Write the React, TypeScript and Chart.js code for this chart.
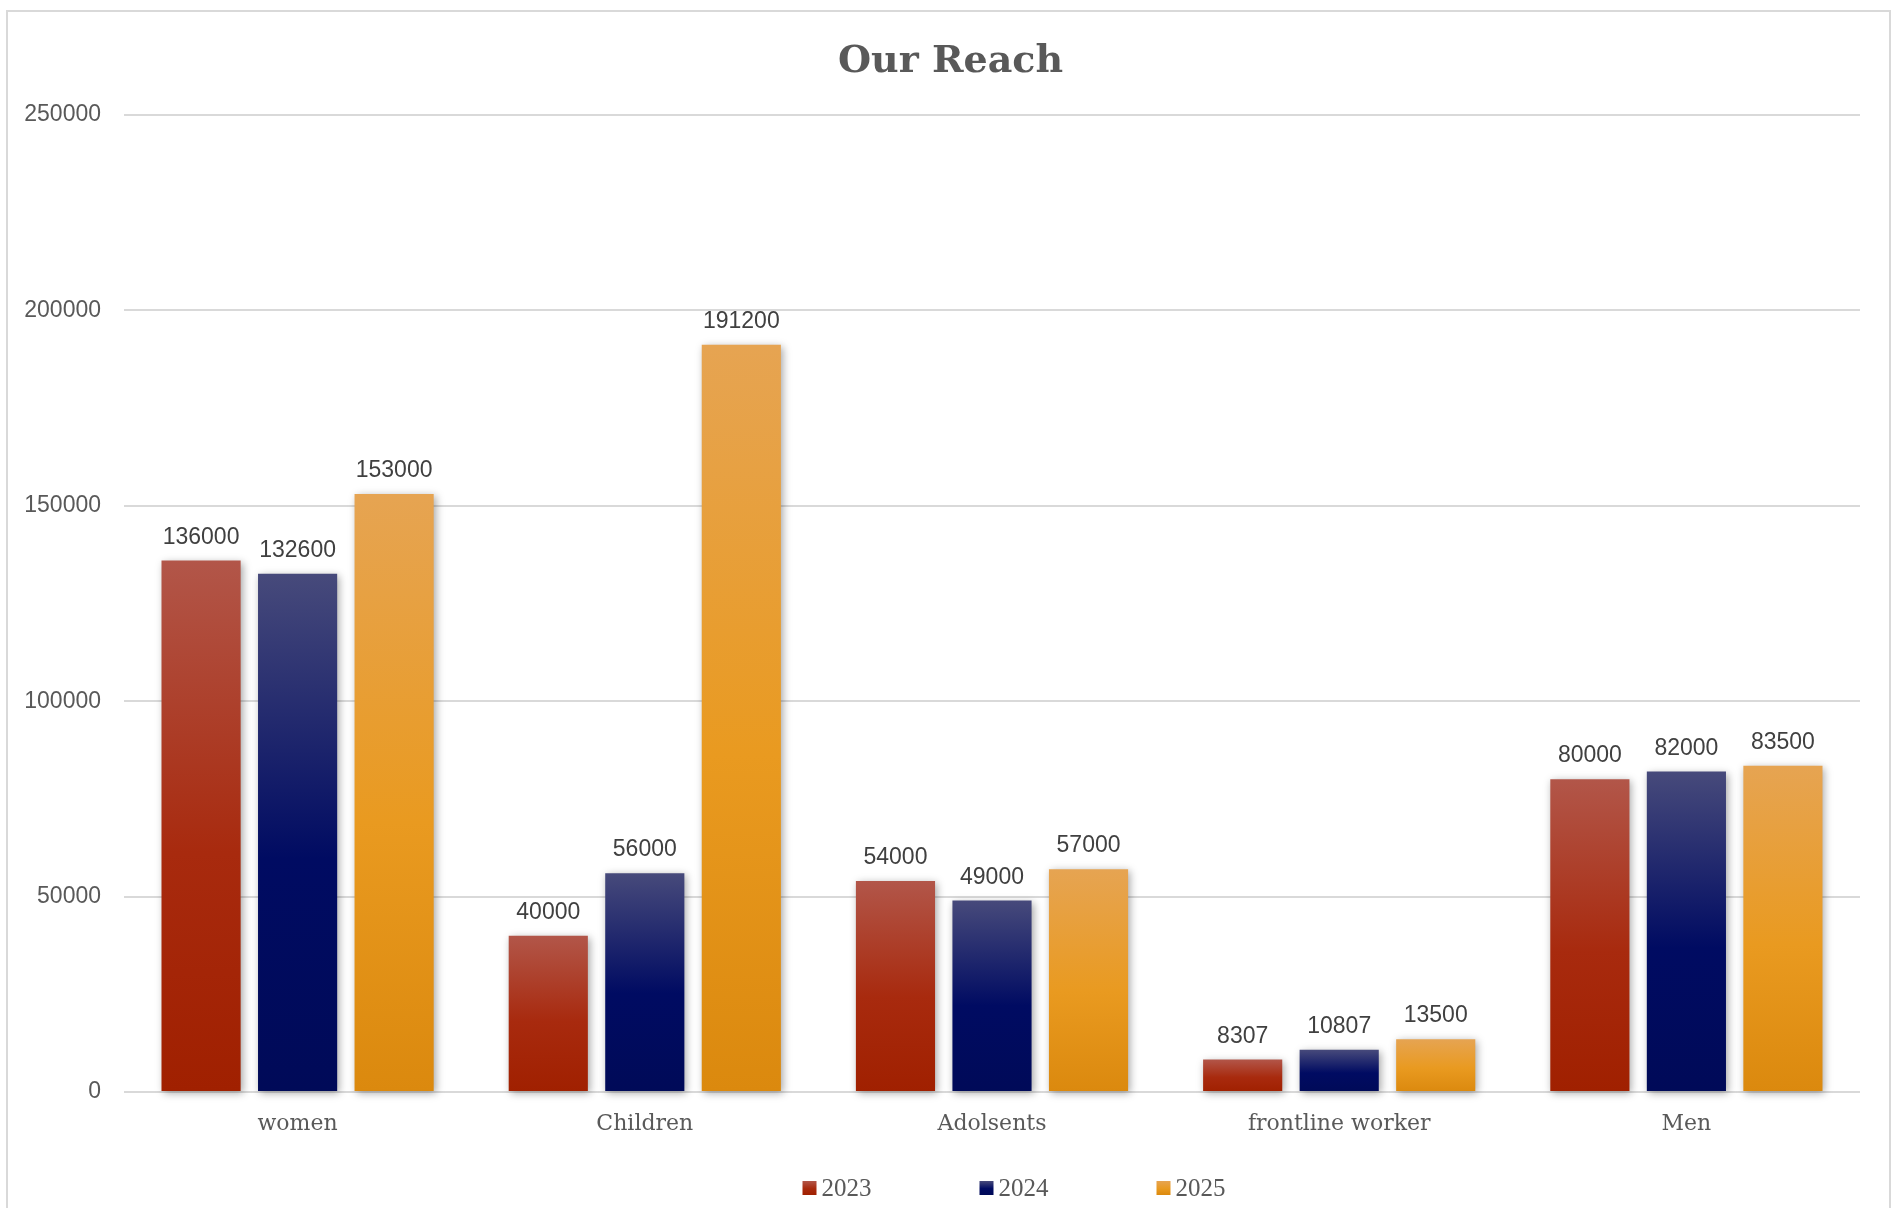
import React, { useEffect, useRef } from "react";
import { Chart, registerables } from "chart.js";

Chart.register(...registerables);

const categories = ["women", "Children", "Adolsents", "frontline worker", "Men"];
const seriesLabels = ["2023", "2024", "2025"];
const values2023 = [136000, 40000, 54000, 8307, 80000];
const values2024 = [132600, 56000, 49000, 10807, 82000];
const values2025 = [153000, 191200, 57000, 13500, 83500];
const yMax = 250000;
const yStep = 50000;

const gradientStops = [
  ["#B25649", "#A82A0E", "#A02000"],
  ["#474A7B", "#000B62", "#000A58"],
  ["#E6A452", "#E99A20", "#DB890E"],
];

const W = 1901;
const H = 1208;

function makeGradient(ctx: CanvasRenderingContext2D, top: number, bottom: number, stops: string[]) {
  const g = ctx.createLinearGradient(0, top, 0, bottom);
  g.addColorStop(0, stops[0]);
  g.addColorStop(0.55, stops[1]);
  g.addColorStop(1, stops[2]);
  return g;
}

const shadowPlugin = {
  id: "barShadow",
  beforeDatasetsDraw(chart: any) {
    const c = chart.ctx;
    c.save();
    c.shadowColor = "rgba(0,0,0,0.35)";
    c.shadowBlur = 8;
    c.shadowOffsetX = 2;
    c.shadowOffsetY = 2;
  },
  afterDatasetsDraw(chart: any) {
    chart.ctx.restore();
  },
};

const dataLabelPlugin = {
  id: "dataLabels",
  afterDatasetsDraw(chart: any) {
    const c = chart.ctx;
    c.save();
    c.font = '23px "Liberation Sans", Arial, sans-serif';
    c.fillStyle = "#404040";
    c.textAlign = "center";
    c.textBaseline = "alphabetic";
    chart.data.datasets.forEach((ds: any, i: number) => {
      const meta = chart.getDatasetMeta(i);
      meta.data.forEach((bar: any, j: number) => {
        c.fillText(String(ds.data[j]), bar.x, bar.y - 17);
      });
    });
    c.restore();
  },
};

const legendPlugin = {
  id: "customLegend",
  afterDraw(chart: any) {
    const c = chart.ctx;
    c.save();
    c.font = '25px "Liberation Serif", serif';
    c.textBaseline = "middle";
    c.textAlign = "left";
    const box = 14;
    const gap = 5;
    const spacing = 177;
    const n = chart.data.datasets.length;
    const lastW = box + gap + c.measureText(chart.data.datasets[n - 1].label).width;
    const total = spacing * (n - 1) + lastW;
    const cx = 1014;
    let x = cx - total / 2;
    const yc = 1188;
    chart.data.datasets.forEach((ds: any, i: number) => {
      c.fillStyle = makeGradient(c, yc - box / 2, yc + box / 2, gradientStops[i]);
      c.fillRect(x, yc - box / 2, box, box);
      c.fillStyle = "#595959";
      c.fillText(ds.label, x + box + gap, yc + 1);
      x += spacing;
    });
    c.restore();
  },
};

export default function App() {
  const canvasRef = useRef<HTMLCanvasElement | null>(null);

  useEffect(() => {
    const canvas = canvasRef.current;
    if (!canvas) return;
    const seriesValues = [values2023, values2024, values2025];
    const chart = new Chart(canvas, {
      type: "bar",
      data: {
        labels: categories,
        datasets: seriesLabels.map((label, i) => ({
          label,
          data: seriesValues[i],
          clip: false as any,
          backgroundColor: (ctx: any) => {
            const chartObj = ctx.chart;
            const ys = chartObj.scales && chartObj.scales.y;
            if (!ys || ctx.raw === undefined || !chartObj.chartArea) return gradientStops[i][1];
            const top = ys.getPixelForValue(ctx.raw);
            const bottom = ys.getPixelForValue(0);
            if (!isFinite(top) || !isFinite(bottom) || bottom - top < 1) return gradientStops[i][1];
            return makeGradient(chartObj.ctx, top, bottom, gradientStops[i]);
          },
          borderWidth: 0,
          categoryPercentage: 0.834,
          barPercentage: 0.82,
        })),
      },
      options: {
        responsive: false,
        animation: false,
        devicePixelRatio: 1,
        layout: { padding: { left: 0, right: 0, top: 0, bottom: 0 } },
        plugins: {
          legend: { display: false },
          tooltip: { enabled: false },
          title: {
            display: true,
            text: "Our Reach",
            color: "#595959",
            font: { family: '"DejaVu Serif", serif', weight: "bold", size: 38, lineHeight: 1.2 },
            padding: { top: 39, bottom: 30.4 },
          },
        },
        scales: {
          x: {
            grid: { display: false, drawTicks: false },
            border: { display: false },
            ticks: {
              color: "#595959",
              font: { family: '"DejaVu Serif", serif', size: 22 },
              padding: 19,
              maxRotation: 0,
              autoSkip: false,
            },
            afterFit: (scale: any) => {
              scale.height = 116;
            },
          },
          y: {
            min: 0,
            max: yMax,
            grid: { color: "#d9d9d9", lineWidth: 2, drawTicks: false },
            border: { display: false },
            ticks: {
              stepSize: yStep,
              color: "#595959",
              font: { family: '"Liberation Sans", Arial, sans-serif', size: 23 },
              padding: 23,
              callback: (v: any) => String(v),
            },
            afterFit: (scale: any) => {
              scale.width = 124;
            },
          },
          rightSpacer: {
            type: "linear",
            position: "right",
            display: true,
            grid: { display: false, drawTicks: false },
            border: { display: false },
            ticks: { display: false },
            afterFit: (scale: any) => {
              scale.width = 41;
            },
          },
        },
      },
      plugins: [shadowPlugin, dataLabelPlugin, legendPlugin],
    });
    return () => chart.destroy();
  }, []);

  return (
    <div
      style={{
        position: "fixed",
        left: 0,
        top: 0,
        width: W,
        height: H,
        overflow: "hidden",
        background: "#ffffff",
      }}
    >
      <div
        style={{
          position: "absolute",
          left: 6,
          top: 10,
          width: 1889 - 6 - 2,
          height: H + 20,
          border: "2px solid #d9d9d9",
          boxSizing: "content-box",
        }}
      />
      <canvas
        ref={canvasRef}
        width={W}
        height={H}
        style={{ position: "absolute", left: 0, top: 0, width: W, height: H }}
      />
    </div>
  );
}
